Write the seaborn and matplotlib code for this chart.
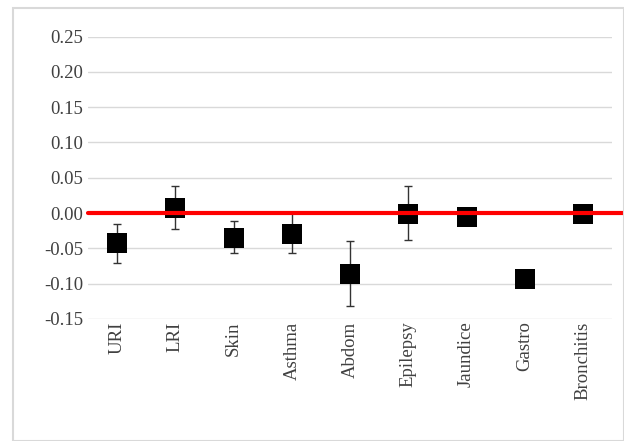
import numpy as np
import pandas as pd
import seaborn as sns
import matplotlib.pyplot as plt

categories = ["URI", "LRI", "Skin", "Asthma", "Abdom", "Epilepsy", "Jaundice", "Gastro", "Bronchitis"]
estimate = [-0.043, 0.007, -0.035, -0.030, -0.086, -0.001, -0.005, -0.094, -0.002]
upper = [-0.016, 0.038, -0.012, 0.000, -0.040, 0.038, -0.001, -0.082, 0.001]
lower = [-0.071, -0.023, -0.057, -0.057, -0.132, -0.038, -0.009, -0.105, -0.005]

df = pd.DataFrame({"cat": categories, "est": estimate, "hi": upper, "lo": lower})

sns.set_style("white")
plt.rcParams["font.family"] = ["Liberation Serif", "DejaVu Serif"]

fig = plt.figure(figsize=(6.24, 4.41), dpi=100)
ax = fig.add_axes([0.141, 0.277, 0.84, 0.64])

x = np.arange(len(categories))
ax.errorbar(x, df["est"], yerr=[df["est"] - df["lo"], df["hi"] - df["est"]],
            fmt="none", ecolor="#333333", elinewidth=1, capsize=3, zorder=3)
sns.scatterplot(data=df, x=x, y="est", marker="s", s=190, color="black",
                linewidth=0, ax=ax, zorder=4, legend=False)
ax.axhline(0, color="#ff0000", linewidth=3, zorder=5, xmin=0, xmax=1.03, clip_on=False)

ax.set_ylim(-0.15, 0.25)
ax.set_yticks(np.arange(-0.15, 0.26, 0.05))
ax.set_yticklabels([f"{v:.2f}" for v in np.arange(-0.15, 0.26, 0.05)])
ax.set_xlim(-0.5, len(categories) - 0.5)
ax.set_xticks(x)
ax.set_xticklabels(categories, rotation=90)
ax.tick_params(labelsize=13.5, colors="#404040", length=0)
ax.tick_params(axis="x", pad=2)
ax.grid(axis="y", color="#d9d9d9", linewidth=1)
ax.set_axisbelow(True)
for s in ax.spines.values():
    s.set_visible(False)
ax.set_xlabel("")
ax.set_ylabel("")

# outer chart frame
fig.patches.append(plt.Rectangle((0.021, 0.0), 0.979, 0.982, transform=fig.transFigure,
                                 fill=False, edgecolor="#d9d9d9", linewidth=1.5))

fig.savefig("out.png", dpi=100)
